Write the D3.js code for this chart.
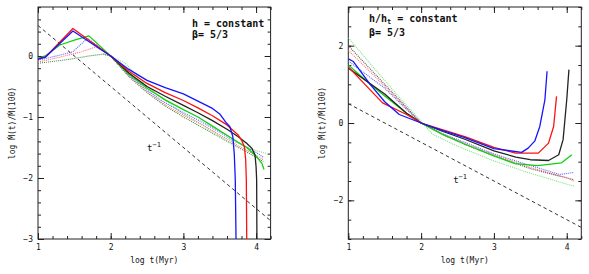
<!DOCTYPE html>
<html>
<head>
<meta charset="utf-8">
<script src="https://cdn.jsdelivr.net/npm/d3@7"></script>
<style>
  body { margin: 0; background: #fff; }
  svg text { font-family: "DejaVu Sans Mono", "Liberation Mono", monospace; fill: #111; }
</style>
</head>
<body>
<svg id="chart" width="589" height="274"></svg>
<script>
// ---- data: [log t, log Mdot(t)/Mdot(100)] ----
// left panel, h = constant
const leftBlue = [[1,-0.05],[1.1,-0.02],[1.48,0.41],[2,0],[2.25,-0.22],[2.5,-0.4],[2.75,-0.52],[3,-0.62],[3.2,-0.74],[3.4,-0.86],[3.5,-0.95],[3.58,-1.08],[3.64,-1.16],[3.68,-1.32],[3.70,-1.6],[3.714,-2.03],[3.725,-3.05]];
const leftRed = [[1,-0.05],[1.1,-0.02],[1.48,0.45],[2,0],[2.25,-0.25],[2.5,-0.45],[2.75,-0.6],[3,-0.73],[3.2,-0.85],[3.4,-0.98],[3.6,-1.13],[3.75,-1.29],[3.8,-1.38],[3.84,-1.49],[3.857,-1.7],[3.866,-2.03],[3.872,-3.05]];
const leftBlack = [[2,0],[2.25,-0.28],[2.5,-0.5],[2.75,-0.66],[3,-0.81],[3.2,-0.93],[3.4,-1.06],[3.6,-1.2],[3.75,-1.32],[3.87,-1.43],[3.94,-1.51],[3.985,-1.62],[4.0,-1.81],[4.008,-2.03],[4.012,-3.05]];
const leftGreen = [[1,-0.04],[1.1,0],[1.3,0.18],[1.5,0.26],[1.7,0.33],[2,0],[2.25,-0.3],[2.5,-0.53],[2.75,-0.72],[3,-0.88],[3.2,-1.0],[3.4,-1.15],[3.6,-1.3],[3.87,-1.5],[4.0,-1.64],[4.08,-1.76],[4.11,-1.86]];
const leftBlueDot = [[1,-0.07],[1.25,0],[1.48,0.07],[1.68,0.29],[2,0],[2.25,-0.32],[2.5,-0.56],[2.75,-0.77],[3,-0.93],[3.25,-1.08],[3.5,-1.25],[3.75,-1.42],[4.0,-1.58],[4.1,-1.66]];
const leftRedDot = [[1,-0.1],[1.3,-0.02],[1.6,0.07],[1.8,0.15],[2,0],[2.25,-0.33],[2.5,-0.58],[2.75,-0.8],[3,-0.97],[3.25,-1.12],[3.5,-1.3],[3.75,-1.47],[4.0,-1.63],[4.1,-1.7]];
const leftDarkDot = [[1,-0.12],[1.4,-0.06],[1.7,0.0],[1.9,0.03],[2,0],[2.25,-0.34],[2.5,-0.6],[2.75,-0.82],[3,-1.0],[3.5,-1.33],[4.0,-1.66],[4.1,-1.73]];
const leftGreenDot = [[1.9,0.03],[2,0.0],[2.2,-0.12],[2.5,-0.5],[3,-0.95],[3.5,-1.3],[4.0,-1.55],[4.15,-1.6]];

// right panel, h/h_t = constant
const rightBlack = [[1,1.42],[1.5,0.75],[1.8,0.25],[2,0],[2.3,-0.22],[2.6,-0.42],[3,-0.72],[3.3,-0.88],[3.5,-0.95],[3.75,-0.97],[3.89,-0.82],[3.95,-0.43],[4.0,0.6],[4.03,1.38]];
const rightRed = [[1,1.45],[1.47,0.52],[1.8,0.22],[2,0],[2.3,-0.18],[2.6,-0.35],[3,-0.63],[3.3,-0.78],[3.61,-0.78],[3.75,-0.52],[3.82,-0.09],[3.86,0.69]];
const rightBlue = [[1,1.66],[1.07,1.59],[1.3,1.0],[1.5,0.55],[1.7,0.22],[2,0],[2.3,-0.2],[2.6,-0.38],[3,-0.66],[3.38,-0.76],[3.47,-0.65],[3.56,-0.47],[3.63,-0.09],[3.7,0.6],[3.73,1.34]];
const rightGreen = [[1,1.5],[1.3,1.0],[1.5,0.7],[1.8,0.25],[2,0],[2.3,-0.3],[2.6,-0.55],[3,-0.85],[3.29,-1.05],[3.6,-1.1],[3.93,-1.03],[4.07,-0.82]];
const rightGreenDot = [[1,2.2],[1.5,1.1],[1.8,0.45],[2,0.05],[2.15,-0.28],[2.5,-0.6],[3,-0.98],[3.5,-1.3],[4.0,-1.58],[4.1,-1.63]];
const rightBlackDot = [[1,2.0],[1.5,1.0],[1.8,0.4],[2,0],[2.3,-0.3],[2.6,-0.55],[3,-0.85],[3.5,-1.18],[4,-1.42],[4.1,-1.47]];
const rightRedDot = [[1,1.88],[1.5,0.95],[1.8,0.38],[2,0],[2.3,-0.3],[2.6,-0.53],[3,-0.82],[3.5,-1.15],[4,-1.42],[4.1,-1.5]];
const rightBlueDot = [[1,1.6],[1.5,0.9],[1.8,0.35],[2,0],[2.3,-0.28],[2.6,-0.5],[3,-0.8],[3.5,-1.1],[3.9,-1.33],[4.1,-1.28]];

// t^-1 reference line (same in both panels)
const powerLaw = [[1,0.5],[4.2,-2.7]];

const xTicks = [1,2,3,4];
const leftYTicks = [-3,-2,-1,0];
const rightYTicks = [-2,0,2];

const svg = d3.select("#chart");

function panel(cfg) {
  const x = d3.scaleLinear().domain([1, 4.2]).range([cfg.left, cfg.right]);
  const y = d3.scaleLinear().domain(cfg.yDomain).range([239, 7]);
  const g = svg.append("g");
  const h = 239 - 7, w = cfg.right - cfg.left;

  const clipId = "clip" + cfg.id;
  g.append("clipPath").attr("id", clipId)
    .append("rect").attr("x", cfg.left).attr("y", 7).attr("width", w).attr("height", h);

  // minor + major ticks on all four sides, pointing inward
  const xMinor = d3.range(1, 4.21, 0.2);
  const yMinor = d3.range(cfg.yDomain[0], cfg.yDomain[1] + 0.001, cfg.yMinorStep);
  const addAxes = (major, minor, axisFn, tr, labels, fmt) => {
    g.append("g").attr("transform", tr)
      .call(axisFn(minor).tickValues(minor).tickSize(-3).tickSizeOuter(0).tickFormat(""))
      .call(s => s.select(".domain").remove());
    g.append("g").attr("transform", tr)
      .call(axisFn(major).tickValues(major).tickSize(-6).tickSizeOuter(0).tickPadding(5)
        .tickFormat(labels ? fmt : ""))
      .call(s => s.select(".domain").remove())
      .call(s => s.selectAll("text").attr("font-size", 8).attr("font-family", null));
  };
  addAxes(xTicks, xMinor, s => d3.axisBottom(x), `translate(0,239)`, true, d3.format("d"));
  addAxes(xTicks, xMinor, s => d3.axisTop(x), `translate(0,7)`, false);
  addAxes(cfg.yTicks, yMinor, s => d3.axisLeft(y), `translate(${cfg.left},0)`, true, d3.format("d"));
  addAxes(cfg.yTicks, yMinor, s => d3.axisRight(y), `translate(${cfg.right},0)`, false);
  g.selectAll(".tick line").attr("stroke", "#222");

  g.append("rect").attr("x", cfg.left).attr("y", 7).attr("width", w).attr("height", h)
    .attr("fill", "none").attr("stroke", "#222").attr("stroke-width", 1);

  const line = d3.line().x(d => x(d[0])).y(d => y(d[1]));
  const curves = g.append("g").attr("clip-path", `url(#${clipId})`);

  cfg.dotted.forEach(c => {
    curves.append("path").attr("d", line(c.data)).attr("fill", "none")
      .attr("stroke", c.color).attr("stroke-width", 1.1).attr("stroke-dasharray", "1,1");
  });
  cfg.solid.forEach(c => {
    curves.append("path").attr("d", line(c.data)).attr("fill", "none")
      .attr("stroke", c.color).attr("stroke-width", 1.3).attr("stroke-linejoin", "round");
  });
  curves.append("path").attr("d", line(powerLaw)).attr("fill", "none")
    .attr("stroke", "#333").attr("stroke-width", 1).attr("stroke-dasharray", "3.5,3");

  // labels
  g.append("text").attr("x", (cfg.left + cfg.right) / 2).attr("y", 263)
    .attr("text-anchor", "middle").attr("font-size", 8).text("log t(Myr)");
  g.append("text").attr("transform", `translate(${cfg.left - 23},123) rotate(-90)`)
    .attr("text-anchor", "middle").attr("font-size", 8).text("log \u1E40(t)/\u1E40(100)");

  const t1 = g.append("text").attr("x", x(cfg.tLabel[0])).attr("y", y(cfg.tLabel[1]))
    .attr("font-size", 9).text("t");
  t1.append("tspan").attr("dy", -4).attr("font-size", 7).text("\u22121");

  const note = g.append("text").attr("x", cfg.noteX).attr("y", cfg.noteY)
    .attr("font-size", 10).attr("font-weight", "bold");
  cfg.note(note);
  g.append("text").attr("x", cfg.noteX).attr("y", cfg.betaY)
    .attr("font-size", 10).attr("font-weight", "bold").text("\u03B2= 5/3");
}

panel({
  id: "L", left: 38, right: 270.6, yDomain: [-3, 0.803], yTicks: leftYTicks, yMinorStep: 0.2,
  solid: [
    {data: leftGreen, color: "#10d010"},
    {data: leftBlack, color: "#222"},
    {data: leftRed, color: "#ff1010"},
    {data: leftBlue, color: "#1414ff"}
  ],
  dotted: [
    {data: leftGreenDot, color: "#80e080"},
    {data: leftDarkDot, color: "#3c8c3c"},
    {data: leftRedDot, color: "#ff7070"},
    {data: leftBlueDot, color: "#6060ff"}
  ],
  tLabel: [2.5, -1.55],
  noteX: 192, noteY: 27, betaY: 38,
  note: t => t.text("h = constant")
});

panel({
  id: "R", left: 348.3, right: 581.3, yDomain: [-3, 3], yTicks: rightYTicks, yMinorStep: 0.5,
  solid: [
    {data: rightGreen, color: "#10d010"},
    {data: rightBlack, color: "#222"},
    {data: rightRed, color: "#ff1010"},
    {data: rightBlue, color: "#1414ff"}
  ],
  dotted: [
    {data: rightGreenDot, color: "#80e080"},
    {data: rightBlackDot, color: "#555"},
    {data: rightRedDot, color: "#ff7070"},
    {data: rightBlueDot, color: "#6060ff"}
  ],
  tLabel: [2.44, -1.55],
  noteX: 369, noteY: 22, betaY: 36,
  note: t => {
    t.append("tspan").text("h/h");
    t.append("tspan").attr("font-size", 7).attr("dy", 2).text("t");
    t.append("tspan").attr("dy", -2).text(" = constant");
  }
});
</script>
</body>
</html>
